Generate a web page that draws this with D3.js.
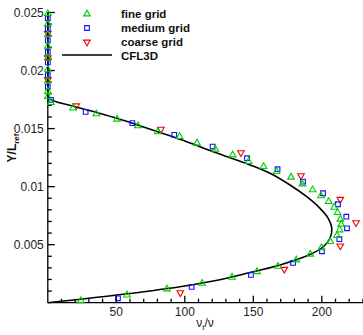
<!DOCTYPE html>
<html>
<head>
<meta charset="utf-8">
<script src="https://cdn.jsdelivr.net/npm/d3@7"></script>
<style>
  html, body { margin: 0; padding: 0; background: #fff; }
  svg { display: block; font-family: 'Liberation Sans', Arial, sans-serif; }
  .tick-label { font-size: 12px; fill: #222; }
  .legend-item { font-size: 11.5px; font-weight: bold; fill: #111; }
</style>
</head>
<body>
<div id="chart"></div>
<script>
const W= 363, H= 335;

// CFL3D reference profile: [nu_t/nu, Y/Lref]
const cfl3d= [
  [0, 0], [49, 0.00064], [96.5, 0.00138], [120.8, 0.00187], [145.2, 0.00253],
  [169.5, 0.00325], [191.4, 0.00415], [201.1, 0.00482], [206, 0.00555],
  [207.3, 0.0064], [204.7, 0.00727], [198.7, 0.00813], [189, 0.00913],
  [176.8, 0.01014], [162.2, 0.01115], [147.6, 0.01187], [120.8, 0.0130],
  [96.5, 0.01408], [65.6, 0.01531], [50.3, 0.01589], [35.2, 0.0164], [18.2, 0.01695],
  [0.5, 0.01766], [0.2, 0.0185], [0, 0.025]
];

const fineGrid= [
  [24.2, 0.00017], [57.8, 0.00066], [87, 0.00118], [112.6, 0.00167], [134.5, 0.00219],
  [152.7, 0.00267], [168, 0.00313], [181.4, 0.00368], [191.6, 0.00418], [199.8, 0.00473],
  [206.2, 0.00526], [211.1, 0.00578], [213, 0.00627], [214.2, 0.00676], [213.5, 0.00719],
  [211.5, 0.00776], [209.1, 0.00822], [205, 0.00871], [199.4, 0.0092], [193.3, 0.00972],
  [185.8, 0.01023], [177.5, 0.01081], [167, 0.0113], [157.5, 0.01172], [146.6, 0.01216],
  [134.9, 0.01273], [122.3, 0.01322], [108.9, 0.01374], [96.2, 0.01431], [80.2, 0.01472],
  [65.8, 0.01523], [50.5, 0.01581], [35.4, 0.01627], [18.4, 0.01676], [2.3, 0.01724],
  [0, 0.01776], [0, 0.0182], [0, 0.0191], [0, 0.0201], [0, 0.0211], [0, 0.0221],
  [0, 0.0231], [0, 0.0240], [0, 0.0249]
];

const mediumGrid= [
  [51.2, 0.00038], [105, 0.00136], [148.3, 0.00239], [179, 0.00343], [200.1, 0.00443],
  [212.8, 0.00547], [218.4, 0.00641], [217.9, 0.00741], [211.8, 0.00848], [200.9, 0.00943],
  [186.3, 0.01043], [167.7, 0.0115], [145.4, 0.01245], [120.3, 0.01345], [92.3, 0.01446],
  [61.7, 0.01547], [27.6, 0.01644], [2.3, 0.01747], [0, 0.0186], [0, 0.0196], [0, 0.0207],
  [0, 0.0216], [0, 0.0226], [0, 0.0236], [0, 0.0245]
];

const coarseGrid= [
  [96.7, 0.00086], [172.6, 0.00288], [213.5, 0.00489], [225, 0.0069], [213.5, 0.00891],
  [184.8, 0.01095], [141, 0.01293], [82.6, 0.01495], [20.8, 0.01696], [0, 0.0192],
  [0, 0.0211], [0, 0.0232]
];

const xTicks= [50, 100, 150, 200];
const yTicks= [0.005, 0.01, 0.015, 0.02, 0.025];
const yTickLabels= ['0.005', '0.01', '0.015', '0.02', '0.025'];
const legendLabels= ['fine grid', 'medium grid', 'coarse grid', 'CFL3D'];

const svg= d3.select('#chart').append('svg')
  .attr('width', W).attr('height', H);

const xSc= d3.scaleLinear().domain([0, 230]).range([47.8, 362.9]);
const ySc= d3.scaleLinear().domain([0, 0.025]).range([302.7, 12.5]);

// axes (ticks point inward)
const minorX= d3.range(10, 231, 10).filter(v => v % 50 !== 0);
const minorY= d3.range(1, 25).filter(i => i % 5 !== 0).map(i => i/1000);

const axG= svg.append('g').attr('stroke', '#000').attr('stroke-width', 1.3);
axG.append('line')
  .attr('x1', xSc(0)).attr('x2', xSc(230))
  .attr('y1', ySc(0)).attr('y2', ySc(0));
axG.append('line')
  .attr('x1', xSc(0)).attr('x2', xSc(0))
  .attr('y1', ySc(0)).attr('y2', ySc(0.025));

axG.selectAll(null).data(xTicks).join('line')
  .attr('x1', d => xSc(d)).attr('x2', d => xSc(d))
  .attr('y1', ySc(0)).attr('y2', ySc(0)-7);
axG.selectAll(null).data(minorX).join('line')
  .attr('x1', d => xSc(d)).attr('x2', d => xSc(d))
  .attr('y1', ySc(0)).attr('y2', ySc(0)-4);
axG.selectAll(null).data(yTicks).join('line')
  .attr('x1', xSc(0)).attr('x2', xSc(0)+7)
  .attr('y1', d => ySc(d)).attr('y2', d => ySc(d));
axG.selectAll(null).data(minorY).join('line')
  .attr('x1', xSc(0)).attr('x2', xSc(0)+4)
  .attr('y1', d => ySc(d)).attr('y2', d => ySc(d));

svg.selectAll(null).data(xTicks).join('text')
  .attr('class', 'tick-label')
  .attr('x', d => xSc(d)).attr('y', ySc(0)+13)
  .attr('text-anchor', 'middle')
  .text(d => d);
svg.selectAll(null).data(yTicks).join('text')
  .attr('class', 'tick-label')
  .attr('x', xSc(0)-4).attr('y', d => ySc(d)+4)
  .attr('text-anchor', 'end')
  .text((d, i) => yTickLabels[i]);

// axis titles
const xt= svg.append('text')
  .attr('x', 205).attr('y', 327)
  .attr('text-anchor', 'middle')
  .attr('font-size', 12).attr('fill', '#222');
xt.append('tspan').text('ν');
xt.append('tspan').attr('font-size', 8).attr('dy', 3).text('t');
xt.append('tspan').attr('dy', -3).text('/ν');

const yt= svg.append('text')
  .attr('transform', 'translate(16,148) rotate(-90)')
  .attr('text-anchor', 'middle')
  .attr('font-size', 12).attr('font-weight', 'bold').attr('fill', '#111');
yt.append('tspan').text('Y/L');
yt.append('tspan').attr('font-size', 8).attr('dy', 3).text('ref');

// CFL3D line
const line= d3.line()
  .x(d => xSc(d[0]))
  .y(d => ySc(d[1]))
  .curve(d3.curveCatmullRom.alpha(0.5));
svg.append('path')
  .attr('d', line(cfl3d))
  .attr('fill', 'none')
  .attr('stroke', '#000')
  .attr('stroke-width', 1.6);

// markers
const triUp= d3.symbol(d3.symbolTriangle, 19)();
const square= d3.symbol(d3.symbolSquare, 22)();

const _markers= (pts, path, color, rot) => {
  svg.append('g').selectAll('path').data(pts).join('path')
    .attr('d', path)
    .attr('transform', d => `translate(${xSc(d[0])},${ySc(d[1])}) rotate(${rot})`)
    .attr('fill', 'none')
    .attr('stroke', color)
    .attr('stroke-width', 1.1);
};
_markers(coarseGrid, triUp, '#ee0000', 180);
_markers(mediumGrid, square, '#1010ff', 0);
_markers(fineGrid, triUp, '#00cc00', 0);

// legend
const lgY= [14, 28, 42, 56];
const lgSym= [
  { path: triUp, color: '#00cc00', rot: 0 },
  { path: square, color: '#1010ff', rot: 0 },
  { path: triUp, color: '#ee0000', rot: 180 },
];
lgSym.forEach((s, i) => {
  svg.append('path')
    .attr('d', s.path)
    .attr('transform', `translate(87,${lgY[i]}) rotate(${s.rot})`)
    .attr('fill', 'none').attr('stroke', s.color).attr('stroke-width', 1.1);
});
svg.append('line')
  .attr('x1', 62).attr('x2', 112).attr('y1', lgY[3]-1).attr('y2', lgY[3]-1)
  .attr('stroke', '#000').attr('stroke-width', 1.6);
svg.selectAll(null).data(legendLabels).join('text')
  .attr('class', 'legend-item')
  .attr('x', 121).attr('y', (d, i) => lgY[i]+4)
  .text(d => d);
</script>
</body>
</html>
